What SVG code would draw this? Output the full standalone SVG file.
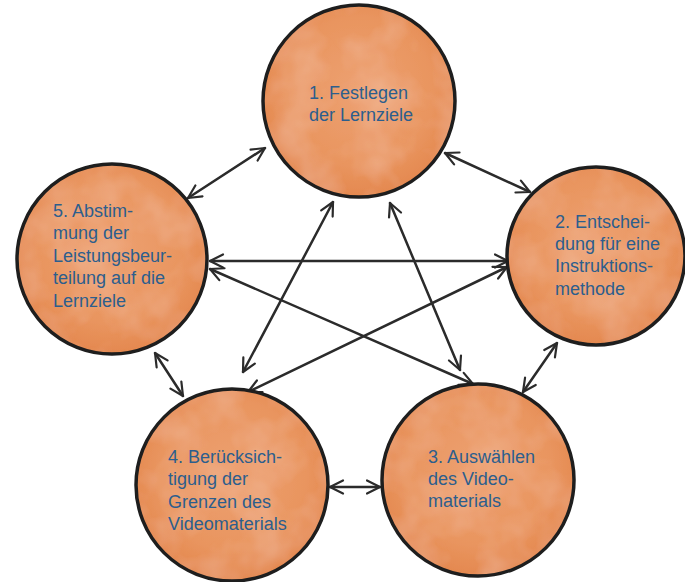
<svg xmlns="http://www.w3.org/2000/svg" width="685" height="582" viewBox="0 0 685 582">
<defs>
<radialGradient id="wc" cx="50%" cy="45%" r="55%">
<stop offset="0" stop-color="#eda172"/>
<stop offset="0.7" stop-color="#e9955f"/>
<stop offset="1" stop-color="#e4884f"/>
</radialGradient>
<filter id="tex" x="0" y="0" width="100%" height="100%">
<feTurbulence type="fractalNoise" baseFrequency="0.025" numOctaves="3" seed="4" result="n"/>
<feColorMatrix in="n" type="matrix" values="0 0 0 0 0.95  0 0 0 0 0.68  0 0 0 0 0.52  0 0 0 0.5 -0.18" result="c"/>
<feComposite in="c" in2="SourceGraphic" operator="in" result="m"/>
<feMerge><feMergeNode in="SourceGraphic"/><feMergeNode in="m"/></feMerge>
</filter>
<marker id="ah" viewBox="0 0 16 16" refX="14.5" refY="8" markerWidth="16" markerHeight="16" orient="auto-start-reverse" markerUnits="userSpaceOnUse">
<path d="M1.5,1.5 L14.5,8 L1.5,14.5" fill="none" stroke="#2b2b2b" stroke-width="2.2" stroke-linecap="round" stroke-linejoin="round"/>
</marker>
</defs>
<style>
.f{fill:url(#wc);filter:url(#tex)}
.o{fill:none;stroke:#1e1e1e;stroke-width:3.5}
.t{font-family:"Liberation Sans",Arial,sans-serif;font-size:18px;fill:#2c5e8d}
.a line{stroke:#2b2b2b;stroke-width:2.5;stroke-linecap:round;marker-start:url(#ah);marker-end:url(#ah)}
</style>
<rect width="685" height="582" fill="#ffffff"/>
<g id="connectors" class="a">
<line x1="188" y1="198" x2="265" y2="148"/>
<line x1="445" y1="153" x2="530" y2="192"/>
<line x1="210" y1="261" x2="508" y2="261"/>
<line x1="210" y1="269" x2="473" y2="384"/>
<line x1="507" y1="267" x2="248" y2="392"/>
<line x1="333" y1="202" x2="243" y2="372"/>
<line x1="390" y1="203" x2="460" y2="370"/>
<line x1="557" y1="343" x2="523" y2="392"/>
<line x1="155" y1="353" x2="183" y2="396"/>
<line x1="330" y1="487" x2="380" y2="487"/>
</g>
<g id="n1">
<circle class="f" cx="359" cy="101" r="96"/>
<circle class="o" cx="359" cy="101" r="96"/>
<text class="t" x="309" y="99">1. Festlegen</text>
<text class="t" x="309" y="121">der Lernziele</text>
</g>
<g id="n2">
<circle class="f" cx="596" cy="256" r="89"/>
<circle class="o" cx="596" cy="256" r="89"/>
<text class="t" x="555" y="228">2. Entschei-</text>
<text class="t" x="555" y="250">dung für eine</text>
<text class="t" x="555" y="272">Instruktions-</text>
<text class="t" x="555" y="295">methode</text>
</g>
<g id="n3">
<circle class="f" cx="478" cy="480" r="96"/>
<circle class="o" cx="478" cy="480" r="96"/>
<text class="t" x="428" y="463">3. Auswählen</text>
<text class="t" x="428" y="485">des Video-</text>
<text class="t" x="428" y="507">materials</text>
</g>
<g id="n4">
<circle class="f" cx="232" cy="485" r="96"/>
<circle class="o" cx="232" cy="485" r="96"/>
<text class="t" x="168" y="463">4. Berücksich-</text>
<text class="t" x="168" y="485">tigung der</text>
<text class="t" x="168" y="508">Grenzen des</text>
<text class="t" x="168" y="530">Videomaterials</text>
</g>
<g id="n5">
<circle class="f" cx="112" cy="259" r="95"/>
<circle class="o" cx="112" cy="259" r="95"/>
<text class="t" x="53" y="217">5. Abstim-</text>
<text class="t" x="53" y="239">mung der</text>
<text class="t" x="53" y="262">Leistungsbeur-</text>
<text class="t" x="53" y="284">teilung auf die</text>
<text class="t" x="53" y="307">Lernziele</text>
</g>
</svg>
